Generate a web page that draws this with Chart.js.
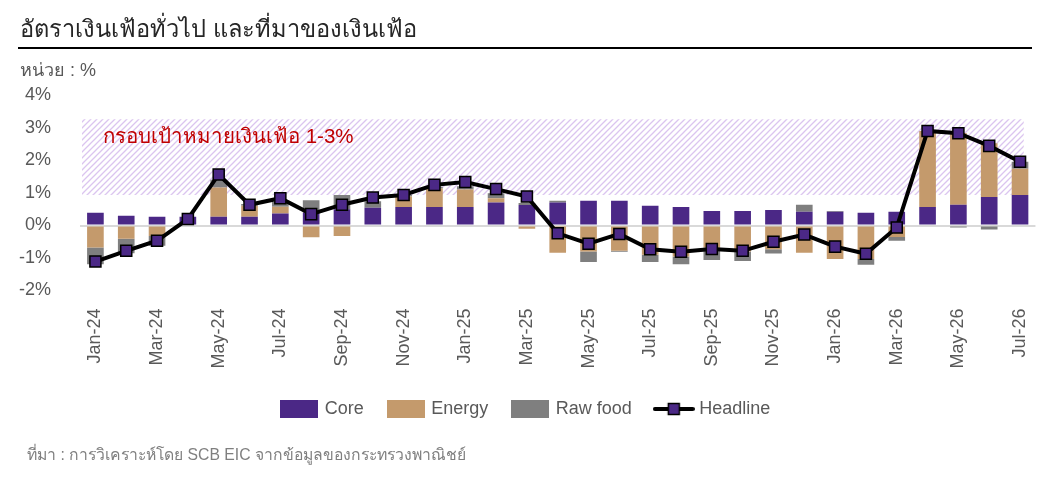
<!DOCTYPE html>
<html>
<head>
<meta charset="utf-8">
<script src="https://cdn.jsdelivr.net/npm/chart.js@4"></script>
<style>
  body { margin: 0; background: #fff; }
  #wrap { position: relative; width: 1060px; height: 486px; overflow: hidden; font-family: "Liberation Sans", "Noto Sans", sans-serif; }
  #chartBox { position: absolute; left: 0; top: 0; width: 1060px; height: 486px; }
  .txt { position: absolute; white-space: nowrap; }
  #title { left: 20px; top: 13px; font-size: 23.6px; line-height: 32px; color: #262626; }
  #rule { position: absolute; left: 18px; top: 47px; width: 1014px; height: 2px; background: #000; }
  #unit { left: 20px; top: 58px; font-size: 18px; line-height: 24px; color: #595959; }
  #bandLabel { left: 103px; top: 124px; font-size: 20.5px; line-height: 24px; color: #c00000; }
  #source { left: 27px; top: 445px; font-size: 15.75px; line-height: 20px; color: #7f7f7f; }
</style>
</head>
<body>
<div id="wrap">
  <div id="chartBox"><canvas id="inflationChart"></canvas></div>
  <div class="txt" id="title">อัตราเงินเฟ้อทั่วไป และที่มาของเงินเฟ้อ</div>
  <div id="rule"></div>
  <div class="txt" id="unit">หน่วย : %</div>
  <div class="txt" id="bandLabel">กรอบเป้าหมายเงินเฟ้อ 1-3%</div>
  <div class="txt" id="source">ที่มา : การวิเคราะห์โดย SCB EIC จากข้อมูลของกระทรวงพาณิชย์</div>
</div>
<script>
// months shown on the x axis (every other one gets a label)
const categories = [
  'Jan-24', 'Feb-24', 'Mar-24', 'Apr-24', 'May-24', 'Jun-24', 'Jul-24', 'Aug-24', 'Sep-24', 'Oct-24', 'Nov-24', 'Dec-24',
  'Jan-25', 'Feb-25', 'Mar-25', 'Apr-25', 'May-25', 'Jun-25', 'Jul-25', 'Aug-25', 'Sep-25', 'Oct-25', 'Nov-25', 'Dec-25',
  'Jan-26', 'Feb-26', 'Mar-26', 'Apr-26', 'May-26', 'Jun-26', 'Jul-26'
];

// contributions, % pts
const core = [0.39, 0.30, 0.27, 0.27, 0.27, 0.27, 0.37, 0.40, 0.50, 0.55, 0.57, 0.57,
  0.57, 0.71, 0.63, 0.71, 0.76, 0.76, 0.61, 0.57, 0.45, 0.45, 0.48, 0.42,
  0.42, 0.39, 0.42, 0.57, 0.64, 0.88, 0.94];
const energy = [-0.68, -0.41, -0.32, 0, 0.90, 0.34, 0.21, -0.36, -0.32, 0, 0.32, 0.57,
  0.54, 0.13, -0.10, -0.84, -0.80, -0.78, -0.90, -0.95, -0.68, -0.80, -0.73, -0.84,
  -1.03, -1.03, -0.35, 2.34, 2.21, 1.65, 0.81];
const rawFood = [-0.51, -0.44, -0.30, 0, 0.24, 0.05, 0.15, 0.38, 0.44, 0.20, 0.05, 0.05,
  0.10, 0.15, 0.06, 0.05, -0.32, -0.03, -0.22, -0.24, -0.38, -0.29, -0.13, 0.22,
  0.03, -0.18, -0.12, 0, -0.06, -0.12, 0.21];
const headline = [-1.11, -0.78, -0.47, 0.20, 1.57, 0.64, 0.84, 0.35, 0.64, 0.86, 0.94, 1.25,
  1.34, 1.12, 0.89, -0.24, -0.56, -0.26, -0.73, -0.81, -0.72, -0.78, -0.50, -0.28,
  -0.65, -0.87, -0.06, 2.91, 2.84, 2.45, 1.96];

// target band as drawn (low, high) and y axis range
const targetBand = [0.94, 3.27];
const yRange = [-2, 4];

const purple = '#4b2886';
const tan = '#c49a6c';
const grey = '#7f7f7f';

// hatch fill for the target band
function makeHatch() {
  const c = document.createElement('canvas');
  c.width = 6; c.height = 6;
  const g = c.getContext('2d');
  g.strokeStyle = 'rgba(190, 150, 225, 0.55)';
  g.lineWidth = 1.3;
  g.beginPath();
  g.moveTo(0, 6); g.lineTo(6, 0);
  g.moveTo(-3, 3); g.lineTo(3, -3);
  g.moveTo(3, 9); g.lineTo(9, 3);
  g.stroke();
  return c;
}

// little images used as legend symbols
function boxSymbol(color) {
  const c = document.createElement('canvas');
  c.width = 38; c.height = 18;
  const g = c.getContext('2d');
  g.fillStyle = color;
  g.fillRect(0, 0, 38, 18);
  return c;
}
function lineSymbol() {
  const c = document.createElement('canvas');
  c.width = 42; c.height = 14;
  const g = c.getContext('2d');
  g.strokeStyle = '#000';
  g.lineWidth = 4;
  g.lineCap = 'round';
  g.beginPath(); g.moveTo(2, 7); g.lineTo(40, 7); g.stroke();
  g.fillStyle = purple;
  g.fillRect(15.5, 1.5, 11, 11);
  g.lineWidth = 1.5;
  g.strokeRect(15.5, 1.5, 11, 11);
  return c;
}

const bandPlugin = {
  id: 'targetBand',
  beforeDatasetsDraw(chart) {
    const {ctx, chartArea, scales} = chart;
    const y1 = scales.y.getPixelForValue(targetBand[1]);
    const y0 = scales.y.getPixelForValue(targetBand[0]);
    const step = scales.x.getPixelForValue(1) - scales.x.getPixelForValue(0);
    const xEnd = scales.x.getPixelForValue(categories.length - 1) + step * 0.12;
    ctx.save();
    ctx.fillStyle = ctx.createPattern(makeHatch(), 'repeat');
    ctx.fillRect(chartArea.left + 2, y1, xEnd - chartArea.left - 2, y0 - y1);
    ctx.restore();
  }
};

// nudge the legend a little to the right, like the original
const legendShift = {
  id: 'legendShift',
  afterLayout(chart) {
    if (chart.legend) {
      chart.legend.left += 8;
      chart.legend.right += 8;
    }
  }
};

const symbols = [boxSymbol(purple), boxSymbol(tan), boxSymbol(grey), lineSymbol()];

const textFont = { family: '"Liberation Sans", "Noto Sans", sans-serif', size: 18 };

const ctx = document.getElementById('inflationChart').getContext('2d');
let inflationChart = new Chart(ctx, {
  data: {
    labels: categories,
    datasets: [
      { type: 'line', label: 'Headline', data: headline, order: 0,
        borderColor: '#000', borderWidth: 4, pointStyle: 'rect', pointRadius: 7.8,
        pointBackgroundColor: purple, pointBorderColor: '#000', pointBorderWidth: 1.5,
        tension: 0, fill: false },
      { type: 'bar', label: 'Core', data: core, backgroundColor: purple, order: 1 },
      { type: 'bar', label: 'Energy', data: energy, backgroundColor: tan, order: 1 },
      { type: 'bar', label: 'Raw food', data: rawFood, backgroundColor: grey, order: 1 }
    ]
  },
  options: {
    responsive: true,
    maintainAspectRatio: false,
    animation: false,
    datasets: { bar: { categoryPercentage: 1, barPercentage: 0.54, borderWidth: 0 } },
    layout: { padding: { left: 0, right: 23, top: 95.5, bottom: 58 } },
    plugins: {
      tooltip: { enabled: false },
      legend: {
        position: 'bottom',
        labels: {
          usePointStyle: true,
          pointStyleWidth: 33,
          padding: 25.5,
          color: '#595959',
          font: textFont,
          generateLabels(chart) {
            const order = ['Core', 'Energy', 'Raw food', 'Headline'];
            return order.map((name, i) => {
              const idx = chart.data.datasets.findIndex(d => d.label === name);
              return { text: name, datasetIndex: idx, pointStyle: symbols[i],
                fillStyle: 'transparent', strokeStyle: 'transparent', lineWidth: 0,
                fontColor: '#595959', hidden: false };
            });
          }
        }
      }
    },
    scales: {
      x: {
        stacked: true,
        grid: { display: false, drawTicks: false },
        border: { display: false },
        ticks: {
          autoSkip: false, maxRotation: 90, minRotation: 90, padding: 18,
          color: '#595959', font: textFont,
          callback: (v, i) => (i % 2 === 0 ? categories[i] : '')
        },
        afterFit: (scale) => { scale.height = 84; }
      },
      y: {
        stacked: true,
        min: yRange[0], max: yRange[1],
        grid: {
          drawTicks: false,
          lineWidth: 2,
          color: (c) => (c.tick && c.tick.value === 0 ? '#d9d9d9' : 'rgba(0,0,0,0)')
        },
        border: { display: false },
        ticks: { stepSize: 1, padding: 29, color: '#595959', font: textFont,
          callback: (v) => v + '%' },
        afterFit: (scale) => { scale.width = 80; }
      }
    }
  },
  plugins: [bandPlugin, legendShift]
});
</script>
</body>
</html>
